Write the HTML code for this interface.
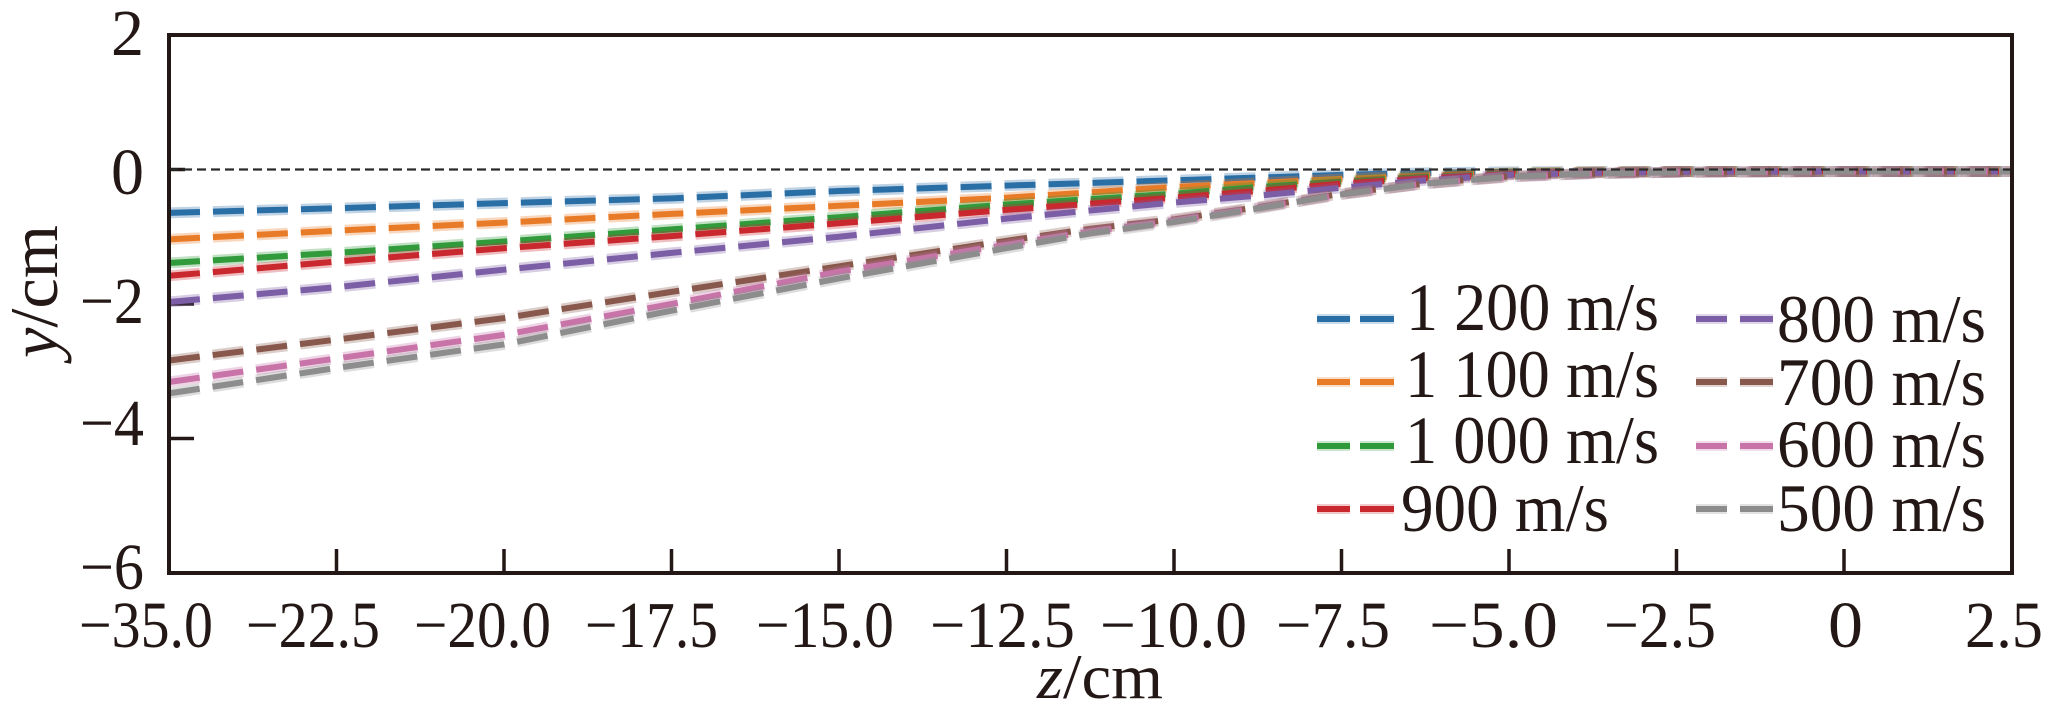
<!DOCTYPE html>
<html>
<head>
<meta charset="utf-8">
<style>
  html,body{margin:0;padding:0;background:#fff;}
  svg{display:block;}
  text{font-family:"Liberation Serif","Times New Roman",serif;fill:#231815;}
</style>
</head>
<body>
<svg width="2045" height="720" viewBox="0 0 2045 720" xmlns="http://www.w3.org/2000/svg">
  <rect x="0" y="0" width="2045" height="720" fill="#fff"/>

  <!-- ticks (under data) -->
  <g stroke="#231815" stroke-width="3.5">
    <line x1="336.5" y1="573" x2="336.5" y2="549"/>
    <line x1="504" y1="573" x2="504" y2="549"/>
    <line x1="671.5" y1="573" x2="671.5" y2="549"/>
    <line x1="839" y1="573" x2="839" y2="549"/>
    <line x1="1006.5" y1="573" x2="1006.5" y2="549"/>
    <line x1="1174" y1="573" x2="1174" y2="549"/>
    <line x1="1341.5" y1="573" x2="1341.5" y2="549"/>
    <line x1="1509" y1="573" x2="1509" y2="549"/>
    <line x1="1676.5" y1="573" x2="1676.5" y2="549"/>
    <line x1="1844" y1="573" x2="1844" y2="549"/>
    <line x1="169" y1="169.5" x2="185" y2="169.5"/>
    <line x1="169" y1="304" x2="194" y2="304"/>
    <line x1="169" y1="438.5" x2="194" y2="438.5"/>
  </g>

  <!-- data series -->
  <g fill="none" stroke-dasharray="31 13" stroke-linecap="butt" stroke-linejoin="round">
    <!-- 1200 blue -->
    <polyline stroke="#2a6ea6" stroke-opacity="0.3" stroke-width="11" points="169,212.9 336.5,208.2 504,203.1 671.5,198.4 839,191.0 1006.5,185.6 1090.25,183.0 1174,180.3 1257.75,177.6 1341.5,174.9 1425.25,172.9 1509,171.9 1592.75,171.5 1676.5,171.5 1844,171.5 2012,171.5"/>
    <polyline stroke="#2a6ea6" stroke-width="6" points="169,212.9 336.5,208.2 504,203.1 671.5,198.4 839,191.0 1006.5,185.6 1090.25,183.0 1174,180.3 1257.75,177.6 1341.5,174.9 1425.25,172.9 1509,171.9 1592.75,171.5 1676.5,171.5 1844,171.5 2012,171.5"/>
    <!-- 1100 orange -->
    <polyline stroke="#e87b27" stroke-opacity="0.3" stroke-width="11" points="169,239.4 336.5,230.7 504,222.6 671.5,213.9 839,205.8 1006.5,197.7 1090.25,192.4 1174,187.0 1257.75,183.0 1341.5,178.9 1425.25,175.6 1509,172.9 1592.75,171.9 1676.5,171.5 1844,171.5 2012,171.5"/>
    <polyline stroke="#e87b27" stroke-width="6" points="169,239.4 336.5,230.7 504,222.6 671.5,213.9 839,205.8 1006.5,197.7 1090.25,192.4 1174,187.0 1257.75,183.0 1341.5,178.9 1425.25,175.6 1509,172.9 1592.75,171.9 1676.5,171.5 1844,171.5 2012,171.5"/>
    <!-- 1000 green -->
    <polyline stroke="#319a3b" stroke-opacity="0.3" stroke-width="11" points="169,263.0 336.5,252.9 504,241.5 671.5,229.4 839,217.2 1006.5,204.5 1090.25,199.1 1174,193.7 1257.75,187.0 1341.5,181.6 1425.25,176.9 1509,173.5 1592.75,172.2 1676.5,171.5 1844,171.5 2012,171.5"/>
    <polyline stroke="#319a3b" stroke-width="6" points="169,263.0 336.5,252.9 504,241.5 671.5,229.4 839,217.2 1006.5,204.5 1090.25,199.1 1174,193.7 1257.75,187.0 1341.5,181.6 1425.25,176.9 1509,173.5 1592.75,172.2 1676.5,171.5 1844,171.5 2012,171.5"/>
    <!-- 900 red -->
    <polyline stroke="#c9282e" stroke-opacity="0.3" stroke-width="11" points="169,275.8 336.5,261.6 504,248.2 671.5,236.1 839,223.3 1006.5,209.9 1090.25,203.8 1174,197.7 1257.75,191.0 1341.5,183.6 1425.25,178.2 1509,174.2 1592.75,172.5 1676.5,171.5 1844,171.5 2012,171.5"/>
    <polyline stroke="#c9282e" stroke-width="6" points="169,275.8 336.5,261.6 504,248.2 671.5,236.1 839,223.3 1006.5,209.9 1090.25,203.8 1174,197.7 1257.75,191.0 1341.5,183.6 1425.25,178.2 1509,174.2 1592.75,172.5 1676.5,171.5 1844,171.5 2012,171.5"/>
    <!-- 800 purple -->
    <polyline stroke="#7c5ea6" stroke-opacity="0.3" stroke-width="11" points="169,302.0 336.5,287.2 504,269.7 671.5,252.9 839,236.75 1006.5,218.6 1090.25,210.5 1174,202.5 1257.75,195.7 1341.5,187.7 1425.25,180.3 1509,174.9 1592.75,172.9 1676.5,171.9 1844,171.5 2012,171.5"/>
    <polyline stroke="#7c5ea6" stroke-width="6" points="169,302.0 336.5,287.2 504,269.7 671.5,252.9 839,236.75 1006.5,218.6 1090.25,210.5 1174,202.5 1257.75,195.7 1341.5,187.7 1425.25,180.3 1509,174.9 1592.75,172.9 1676.5,171.9 1844,171.5 2012,171.5"/>
    <!-- 700 brown -->
    <polyline stroke="#89584c" stroke-opacity="0.3" stroke-width="11" points="169,360.5 336.5,339.6 504,318.1 671.5,291.9 839,266.3 1006.5,240.8 1090.25,228.7 1174,219.3 1257.75,207.2 1341.5,193.7 1425.25,183.6 1509,176.2 1592.75,173.5 1676.5,172.2 1844,171.5 2012,171.5"/>
    <polyline stroke="#89584c" stroke-width="6" points="169,360.5 336.5,339.6 504,318.1 671.5,291.9 839,266.3 1006.5,240.8 1090.25,228.7 1174,219.3 1257.75,207.2 1341.5,193.7 1425.25,183.6 1509,176.2 1592.75,173.5 1676.5,172.2 1844,171.5 2012,171.5"/>
    <!-- 600 pink -->
    <polyline stroke="#c874a9" stroke-opacity="0.3" stroke-width="11" points="169,382.0 336.5,358.5 504,334.9 671.5,304.0 839,271.7 1006.5,244.8 1090.25,231.4 1174,220.6 1257.75,207.8 1341.5,194.4 1425.25,183.6 1509,176.9 1592.75,173.5 1676.5,172.2 1844,171.5 2012,171.5"/>
    <polyline stroke="#c874a9" stroke-width="6" points="169,382.0 336.5,358.5 504,334.9 671.5,304.0 839,271.7 1006.5,244.8 1090.25,231.4 1174,220.6 1257.75,207.8 1341.5,194.4 1425.25,183.6 1509,176.9 1592.75,173.5 1676.5,172.2 1844,171.5 2012,171.5"/>
    <!-- 500 gray -->
    <polyline stroke="#8d8d8d" stroke-opacity="0.3" stroke-width="11" points="169,393.4 336.5,367.9 504,344.4 671.5,310.7 839,278.4 1006.5,248.2 1090.25,233.4 1174,222.0 1257.75,208.5 1341.5,194.4 1425.25,183.6 1509,176.9 1592.75,173.5 1676.5,172.2 1844,171.5 2012,171.5"/>
    <polyline stroke="#8d8d8d" stroke-width="6" points="169,393.4 336.5,367.9 504,344.4 671.5,310.7 839,278.4 1006.5,248.2 1090.25,233.4 1174,222.0 1257.75,208.5 1341.5,194.4 1425.25,183.6 1509,176.9 1592.75,173.5 1676.5,172.2 1844,171.5 2012,171.5"/>
  </g>

  <!-- zero reference line -->
  <line x1="169" y1="169.5" x2="2012" y2="169.5" stroke="#2a2a2a" stroke-width="2.2" stroke-dasharray="9 5"/>

  <!-- axes frame -->
  <rect x="169" y="35" width="1843" height="538" fill="none" stroke="#231815" stroke-width="4"/>

  <!-- y tick labels -->
  <g font-size="66" text-anchor="end">
    <text x="144" y="55">2</text>
    <text x="144" y="194">0</text>
    <text x="144" y="323" textLength="64" lengthAdjust="spacingAndGlyphs">−2</text>
    <text x="144" y="445" textLength="64" lengthAdjust="spacingAndGlyphs">−4</text>
    <text x="144" y="589" textLength="64" lengthAdjust="spacingAndGlyphs">−6</text>
  </g>

  <!-- x tick labels -->
  <g font-size="66">
    <text x="79" y="647" textLength="134" lengthAdjust="spacingAndGlyphs">−35.0</text>
    <text x="246" y="647" textLength="134" lengthAdjust="spacingAndGlyphs">−22.5</text>
    <text x="414" y="647" textLength="137" lengthAdjust="spacingAndGlyphs">−20.0</text>
    <text x="585" y="647" textLength="133" lengthAdjust="spacingAndGlyphs">−17.5</text>
    <text x="756" y="647" textLength="138" lengthAdjust="spacingAndGlyphs">−15.0</text>
    <text x="930" y="647" textLength="145" lengthAdjust="spacingAndGlyphs">−12.5</text>
    <text x="1100" y="647" textLength="147" lengthAdjust="spacingAndGlyphs">−10.0</text>
    <text x="1276" y="647" textLength="114" lengthAdjust="spacingAndGlyphs">−7.5</text>
    <text x="1429" y="647" textLength="129" lengthAdjust="spacingAndGlyphs">−5.0</text>
    <text x="1604" y="647" textLength="112" lengthAdjust="spacingAndGlyphs">−2.5</text>
    <text x="1828" y="647" textLength="35" lengthAdjust="spacingAndGlyphs">0</text>
    <text x="1965" y="647" textLength="78" lengthAdjust="spacingAndGlyphs">2.5</text>
  </g>

  <!-- axis labels -->
  <text x="1037" y="698" font-size="64" textLength="126" lengthAdjust="spacingAndGlyphs"><tspan font-style="italic">z</tspan>/cm</text>
  <text transform="translate(57,291.5) rotate(-90)" x="0" y="0" font-size="68" text-anchor="middle" textLength="133" lengthAdjust="spacingAndGlyphs"><tspan font-style="italic">y</tspan>/cm</text>

  <!-- legend markers -->
  <g stroke-width="6" stroke-linecap="butt">
    <g stroke="#2a6ea6"><line x1="1317" y1="319" x2="1350" y2="319"/><line x1="1360" y1="319" x2="1394" y2="319"/></g>
    <g stroke="#e87b27"><line x1="1317" y1="382" x2="1350" y2="382"/><line x1="1360" y1="382" x2="1394" y2="382"/></g>
    <g stroke="#319a3b"><line x1="1317" y1="446" x2="1350" y2="446"/><line x1="1360" y1="446" x2="1394" y2="446"/></g>
    <g stroke="#c9282e"><line x1="1317" y1="509" x2="1350" y2="509"/><line x1="1360" y1="509" x2="1394" y2="509"/></g>
    <g stroke="#7c5ea6"><line x1="1696" y1="319" x2="1727" y2="319"/><line x1="1740" y1="319" x2="1773" y2="319"/></g>
    <g stroke="#89584c"><line x1="1696" y1="382" x2="1727" y2="382"/><line x1="1740" y1="382" x2="1773" y2="382"/></g>
    <g stroke="#c874a9"><line x1="1696" y1="446" x2="1727" y2="446"/><line x1="1740" y1="446" x2="1773" y2="446"/></g>
    <g stroke="#8d8d8d"><line x1="1696" y1="509" x2="1727" y2="509"/><line x1="1740" y1="509" x2="1773" y2="509"/></g>
  </g>
  <g stroke-width="10" stroke-opacity="0.25" stroke-linecap="butt">
    <g stroke="#2a6ea6"><line x1="1317" y1="319" x2="1350" y2="319"/><line x1="1360" y1="319" x2="1394" y2="319"/></g>
    <g stroke="#e87b27"><line x1="1317" y1="382" x2="1350" y2="382"/><line x1="1360" y1="382" x2="1394" y2="382"/></g>
    <g stroke="#319a3b"><line x1="1317" y1="446" x2="1350" y2="446"/><line x1="1360" y1="446" x2="1394" y2="446"/></g>
    <g stroke="#c9282e"><line x1="1317" y1="509" x2="1350" y2="509"/><line x1="1360" y1="509" x2="1394" y2="509"/></g>
    <g stroke="#7c5ea6"><line x1="1696" y1="319" x2="1727" y2="319"/><line x1="1740" y1="319" x2="1773" y2="319"/></g>
    <g stroke="#89584c"><line x1="1696" y1="382" x2="1727" y2="382"/><line x1="1740" y1="382" x2="1773" y2="382"/></g>
    <g stroke="#c874a9"><line x1="1696" y1="446" x2="1727" y2="446"/><line x1="1740" y1="446" x2="1773" y2="446"/></g>
    <g stroke="#8d8d8d"><line x1="1696" y1="509" x2="1727" y2="509"/><line x1="1740" y1="509" x2="1773" y2="509"/></g>
  </g>

  <!-- legend text -->
  <g font-size="68">
    <text x="1406" y="330" textLength="253" lengthAdjust="spacingAndGlyphs">1 200 m/s</text>
    <text x="1405" y="397" textLength="254" lengthAdjust="spacingAndGlyphs">1 100 m/s</text>
    <text x="1405" y="463" textLength="254" lengthAdjust="spacingAndGlyphs">1 000 m/s</text>
    <text x="1401" y="531" textLength="208" lengthAdjust="spacingAndGlyphs">900 m/s</text>
    <text x="1777" y="342" textLength="209" lengthAdjust="spacingAndGlyphs">800 m/s</text>
    <text x="1777" y="405" textLength="209" lengthAdjust="spacingAndGlyphs">700 m/s</text>
    <text x="1777" y="467" textLength="209" lengthAdjust="spacingAndGlyphs">600 m/s</text>
    <text x="1777" y="531" textLength="209" lengthAdjust="spacingAndGlyphs">500 m/s</text>
  </g>
</svg>
</body>
</html>
